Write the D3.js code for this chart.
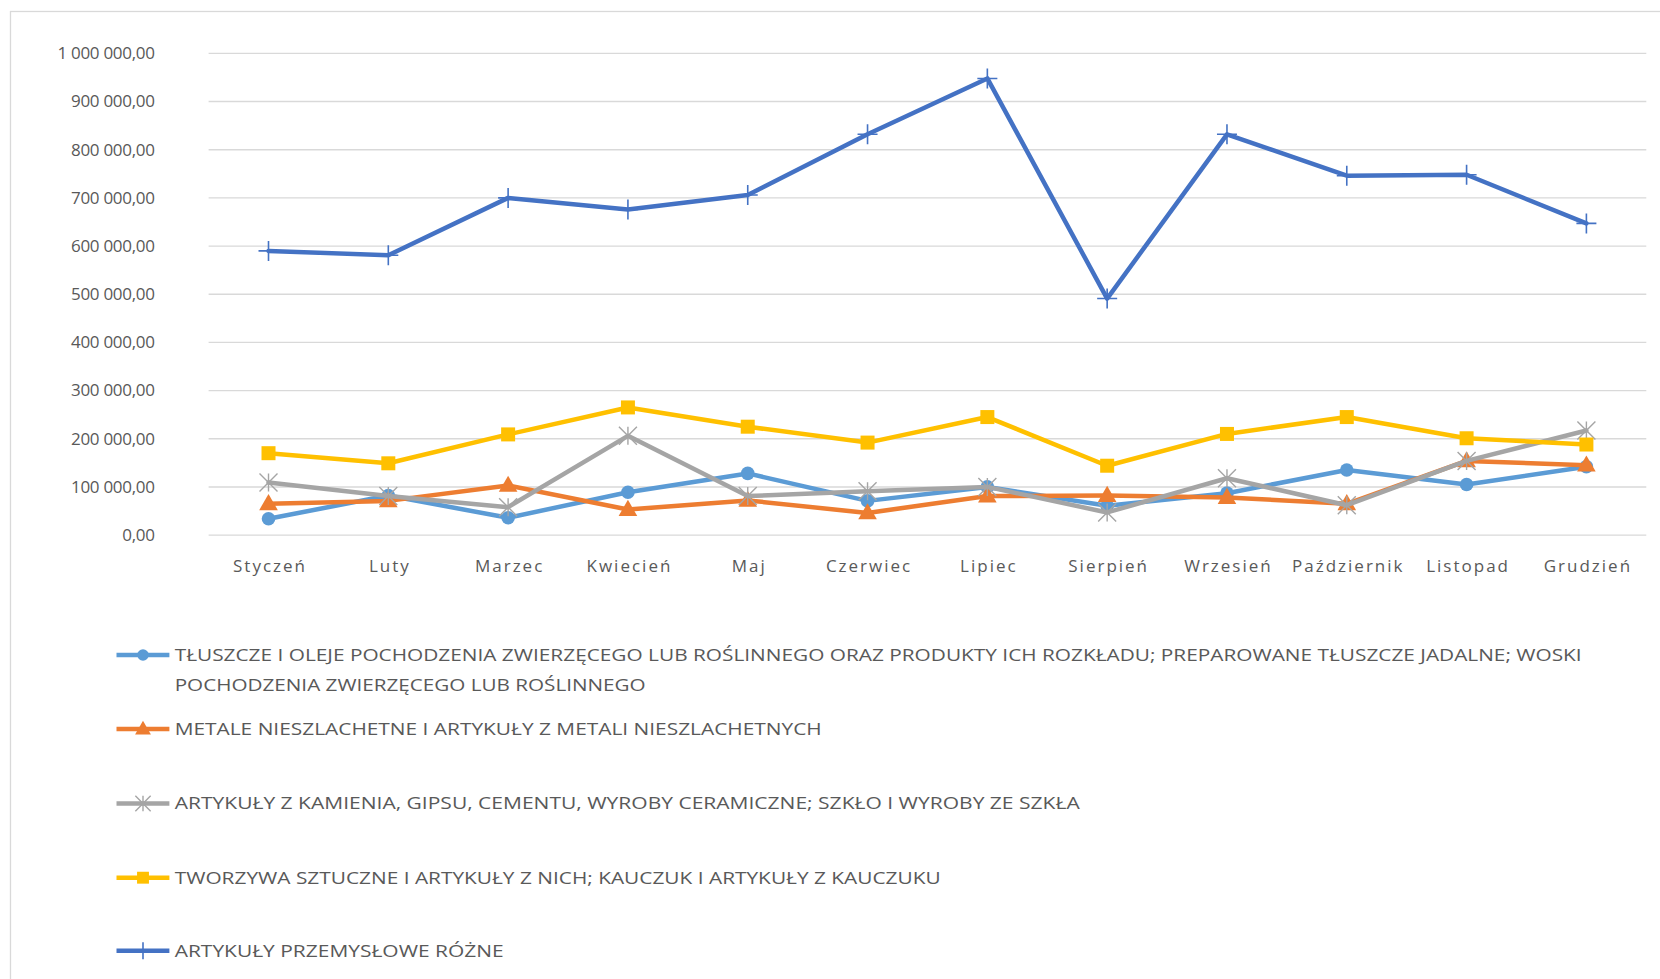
<!DOCTYPE html>
<html>
<head>
<meta charset="utf-8">
<script src="https://cdn.jsdelivr.net/npm/d3@7"></script>
<style>
  body { margin: 0; background: #fff; }
  svg { display: block; }
  text { font-family: "Open Sans", "Noto Sans", sans-serif; fill: #595959; }
</style>
</head>
<body>
<svg id="chart" width="1660" height="979"></svg>
<script>
// months on the x axis
var months = ["Styczeń", "Luty", "Marzec", "Kwiecień", "Maj", "Czerwiec", "Lipiec",
    "Sierpień", "Wrzesień", "Październik", "Listopad", "Grudzień"];

var yTicks = [0, 100000, 200000, 300000, 400000, 500000, 600000, 700000, 800000, 900000, 1000000];

// series values
var tluszcze = [33000, 81000, 35000, 88000, 127000, 70000, 99000, 60000, 86000, 134000, 104000, 141000];
var metale = [64000, 70000, 102000, 52000, 71000, 45000, 80000, 81000, 77000, 64000, 153000, 144000];
var kamien = [108000, 80000, 57000, 205000, 80000, 90000, 99000, 46000, 117000, 61000, 153000, 216000];
var tworzywa = [169000, 148000, 208000, 264000, 224000, 191000, 244000, 143000, 209000, 244000, 200000, 187000];
var przemyslowe = [589000, 580000, 699000, 675000, 705000, 831000, 947000, 490000, 831000, 745000, 747000, 646000];

var seriesNames = [
    ["TŁUSZCZE I OLEJE POCHODZENIA ZWIERZĘCEGO LUB ROŚLINNEGO ORAZ PRODUKTY ICH ROZKŁADU; PREPAROWANE TŁUSZCZE JADALNE; WOSKI",
     "POCHODZENIA ZWIERZĘCEGO LUB ROŚLINNEGO"],
    ["METALE NIESZLACHETNE I ARTYKUŁY Z METALI NIESZLACHETNYCH"],
    ["ARTYKUŁY Z KAMIENIA, GIPSU, CEMENTU, WYROBY CERAMICZNE; SZKŁO I WYROBY ZE SZKŁA"],
    ["TWORZYWA SZTUCZNE I ARTYKUŁY Z NICH; KAUCZUK I ARTYKUŁY Z KAUCZUKU"],
    ["ARTYKUŁY PRZEMYSŁOWE RÓŻNE"]
];
var seriesColors = ["#5B9BD5", "#ED7D31", "#A5A5A5", "#FFC000", "#4472C4"];
var seriesMarkers = ["circle", "triangle", "star", "square", "plus"];

var series = [tluszcze, metale, kamien, tworzywa, przemyslowe].map(function(vals, i) {
    return { id: i, values: vals, lines: seriesNames[i], color: seriesColors[i], marker: seriesMarkers[i] };
});

var svg = d3.select("#chart");

// chart frame
svg.append("rect")
    .attr("x", 10.5).attr("y", 11.5)
    .attr("width", 1700).attr("height", 1000)
    .attr("fill", "none")
    .attr("stroke", "#D9D9D9")
    .attr("stroke-width", 1.3);

var x = d3.scalePoint().domain(months).range([208.6, 1646.3]).padding(0.5);
var y = d3.scaleLinear().domain([0, 1000000]).range([534.6, 52.9]);

var fmt = function(v) {
    return d3.format(",.2f")(v).replace(/,/g, " ").replace(".", ",");
};

// y axis: gridlines + labels
var yAxis = d3.axisLeft(y).tickValues(yTicks).tickSize(-(1646.3 - 208.6)).tickPadding(0).tickFormat(fmt);
var gy = svg.append("g").attr("transform", "translate(208.6,0)").call(yAxis);
gy.select(".domain").remove();
gy.selectAll(".tick line").attr("stroke", "#D9D9D9").attr("stroke-width", 1.4);
gy.selectAll(".tick text")
    .attr("x", -54)
    .attr("dy", "0.34em")
    .attr("font-size", 17)
    .attr("font-family", null)
    .style("letter-spacing", "-0.3px");

// x axis labels
var xAxis = d3.axisBottom(x).tickSize(0).tickPadding(0);
var gx = svg.append("g").attr("transform", "translate(0,534.6)").call(xAxis);
gx.select(".domain").remove();
gx.selectAll(".tick text")
    .attr("x", 1)
    .attr("y", 32)
    .attr("dy", "0.34em")
    .attr("font-size", 17)
    .attr("font-family", null)
    .style("letter-spacing", "2px");

function DrawMarker(sel, type, color, s) {
    if (type === "circle") {
        sel.append("circle").attr("r", 6.8 * s).attr("fill", color);
    } else if (type === "triangle") {
        sel.append("path").attr("d", d3.symbol().type(d3.symbolTriangle).size(150 * s * s)).attr("fill", color)
            .attr("transform", "translate(0,1)");
    } else if (type === "square") {
        sel.append("rect").attr("x", -7 * s).attr("y", -7 * s).attr("width", 14 * s).attr("height", 14 * s).attr("fill", color);
    } else if (type === "star") {
        var r = 9 * s;
        sel.append("path")
            .attr("d", "M" + (-r) + "," + (-r) + "L" + r + "," + r + "M" + (-r) + "," + r + "L" + r + "," + (-r) + "M0," + (-r) + "L0," + r)
            .attr("stroke", color).attr("stroke-width", 1.4).attr("fill", "none");
    } else if (type === "plus") {
        var p = 10 * s;
        sel.append("path")
            .attr("d", "M" + (-p) + ",0L" + p + ",0M0," + (-p) + "L0," + p)
            .attr("stroke", color).attr("stroke-width", 1.6).attr("fill", "none");
    }
}

var line = d3.line()
    .x(function(d, i) { return x(months[i]); })
    .y(function(d) { return y(d); });

var gSeries = svg.selectAll(".series").data(series).enter()
    .append("g").attr("class", "series");

gSeries.append("path")
    .attr("d", function(d) { return line(d.values); })
    .attr("fill", "none")
    .attr("stroke", function(d) { return d.color; })
    .attr("stroke-width", 4.5)
    .attr("stroke-linejoin", "round")
    .attr("stroke-linecap", "round");

gSeries.each(function(s) {
    d3.select(this).selectAll(".marker").data(s.values).enter()
        .append("g").attr("class", "marker")
        .attr("transform", function(d, i) {
            return "translate(" + x(months[i]) + "," + y(d) + ")";
        })
        .each(function() {
            DrawMarker(d3.select(this), s.marker, s.color, 1);
        });
});

// legend
var legendRowY = [655, 729, 803.5, 877.7, 950.7];
var legendWidths = [[1407, 471], [647], [905], [766], [329]];
var gLegend = svg.selectAll(".legend").data(series).enter()
    .append("g").attr("class", "legend")
    .attr("transform", function(d, i) { return "translate(0," + legendRowY[i] + ")"; });

gLegend.append("line")
    .attr("x1", 116.5).attr("x2", 169.4)
    .attr("stroke", function(d) { return d.color; })
    .attr("stroke-width", 4.5);

gLegend.each(function(s, i) {
    var m = d3.select(this).append("g").attr("transform", "translate(143,0)");
    DrawMarker(m, s.marker, s.color, 0.85);
    d3.select(this).selectAll("text").data(s.lines).enter()
        .append("text")
        .attr("x", 174.7)
        .attr("y", function(d, j) { return j * 30; })
        .attr("dy", "0.35em")
        .attr("font-size", 17)
        .attr("textLength", function(d, j) { return legendWidths[i][j]; })
        .attr("lengthAdjust", "spacingAndGlyphs")
        .text(function(d) { return d; });
});
</script>
</body>
</html>
